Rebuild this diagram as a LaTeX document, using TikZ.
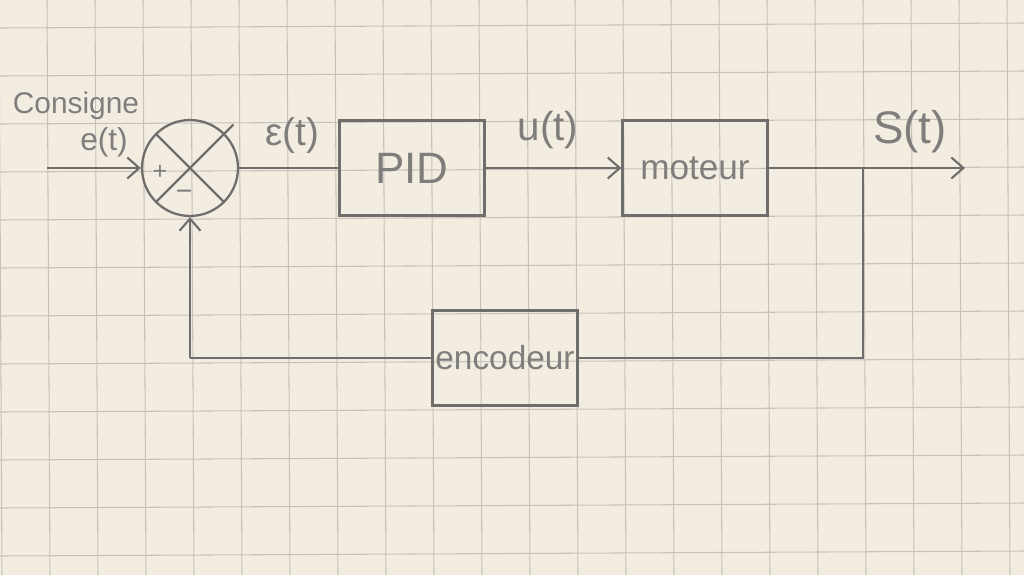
\documentclass[tikz,border=0pt]{standalone}
\usepackage{fontspec}
\setmainfont{Liberation Sans}
\usetikzlibrary{arrows.meta,calc}
\definecolor{paper}{RGB}{243,237,225}
\definecolor{gridc}{RGB}{198,194,187}
\definecolor{pencil}{RGB}{112,110,108}
\definecolor{ink}{RGB}{128,126,124}
\tikzset{
  blockbox/.style={draw=pencil, line width=1.3pt, minimum width=2.9cm, minimum height=1.9cm, inner sep=0pt},
  wire/.style={draw=pencil, line width=1.3pt},
  arr/.style={wire, -{Straight Barb[length=2.4mm,width=4.2mm,line width=1.2pt]}},
  lbl/.style={text=ink, inner sep=0pt},
}
\begin{document}
\begin{tikzpicture}[x=0.02cm,y=-0.02cm]
\fill[paper] (0,0) rectangle (1024,575);
\useasboundingbox (0,0) rectangle (1024,575);
% grid paper
\foreach \gx in {-1,47,...,1024} \draw[gridc, line width=0.6pt] (\gx,0) -- (\gx+3,575);
\foreach \gy in {26,74,...,575} \draw[gridc, line width=0.6pt] (0,\gy+2) -- (1024,\gy-3);

% summing junction
\node[draw=pencil, line width=1.3pt, circle, minimum size=1.92cm, inner sep=0pt] (sum) at (190,168) {};
\draw[wire] (sum.north west) -- (sum.south east);
\draw[wire] ($(sum.center)!1.25!(sum.north east)$) -- (sum.south west);
\node[lbl, font=\fontsize{14}{14}\selectfont] (plus) at (160,172) {+};
\node[lbl, font=\fontsize{16}{16}\selectfont] (minus) at (184,195) {−};

% blocks
\node[blockbox, font=\fontsize{25}{26}\selectfont, text=ink] (pid) at (412,168) {\raisebox{-1.5mm}{PID}};
\node[blockbox, font=\fontsize{20}{22}\selectfont, text=ink] (mot) at (695,168) {moteur};
\node[blockbox, font=\fontsize{19}{22}\selectfont, text=ink] (enc) at (505,358) {encodeur};

% coordinates
\coordinate (in) at (47,168);
\coordinate (out) at (965,168);
\coordinate (branch) at (863,168);
\coordinate (fbc) at (863,358);
\coordinate (fbl) at (190,358);

% connectors
\draw[arr] (in) -- (sum.west);
\draw[wire] (sum.east) -- (pid.west);
\draw[arr] (pid.east) -- (mot.west);
\draw[arr] (mot.east) -- (out);
\draw[wire] (branch) -- (fbc) -- (enc.east);
\draw[wire] (enc.west) -- (fbl);
\draw[arr] (fbl) -- (sum.south);

% labels
\node[lbl, font=\fontsize{17}{17}\selectfont] (cons) at (76,106) {Consigne};
\node[lbl, font=\fontsize{18}{18}\selectfont] (et) at (104,142) {e(t)};
\node[lbl, font=\fontsize{22}{22}\selectfont] (eps) at (292,135) {ε(t)};
\node[lbl, font=\fontsize{23}{23}\selectfont] (ut) at (548,130) {u(t)};
\node[lbl, font=\fontsize{26}{26}\selectfont] (st) at (910,132) {S(t)};
\end{tikzpicture}
\end{document}
